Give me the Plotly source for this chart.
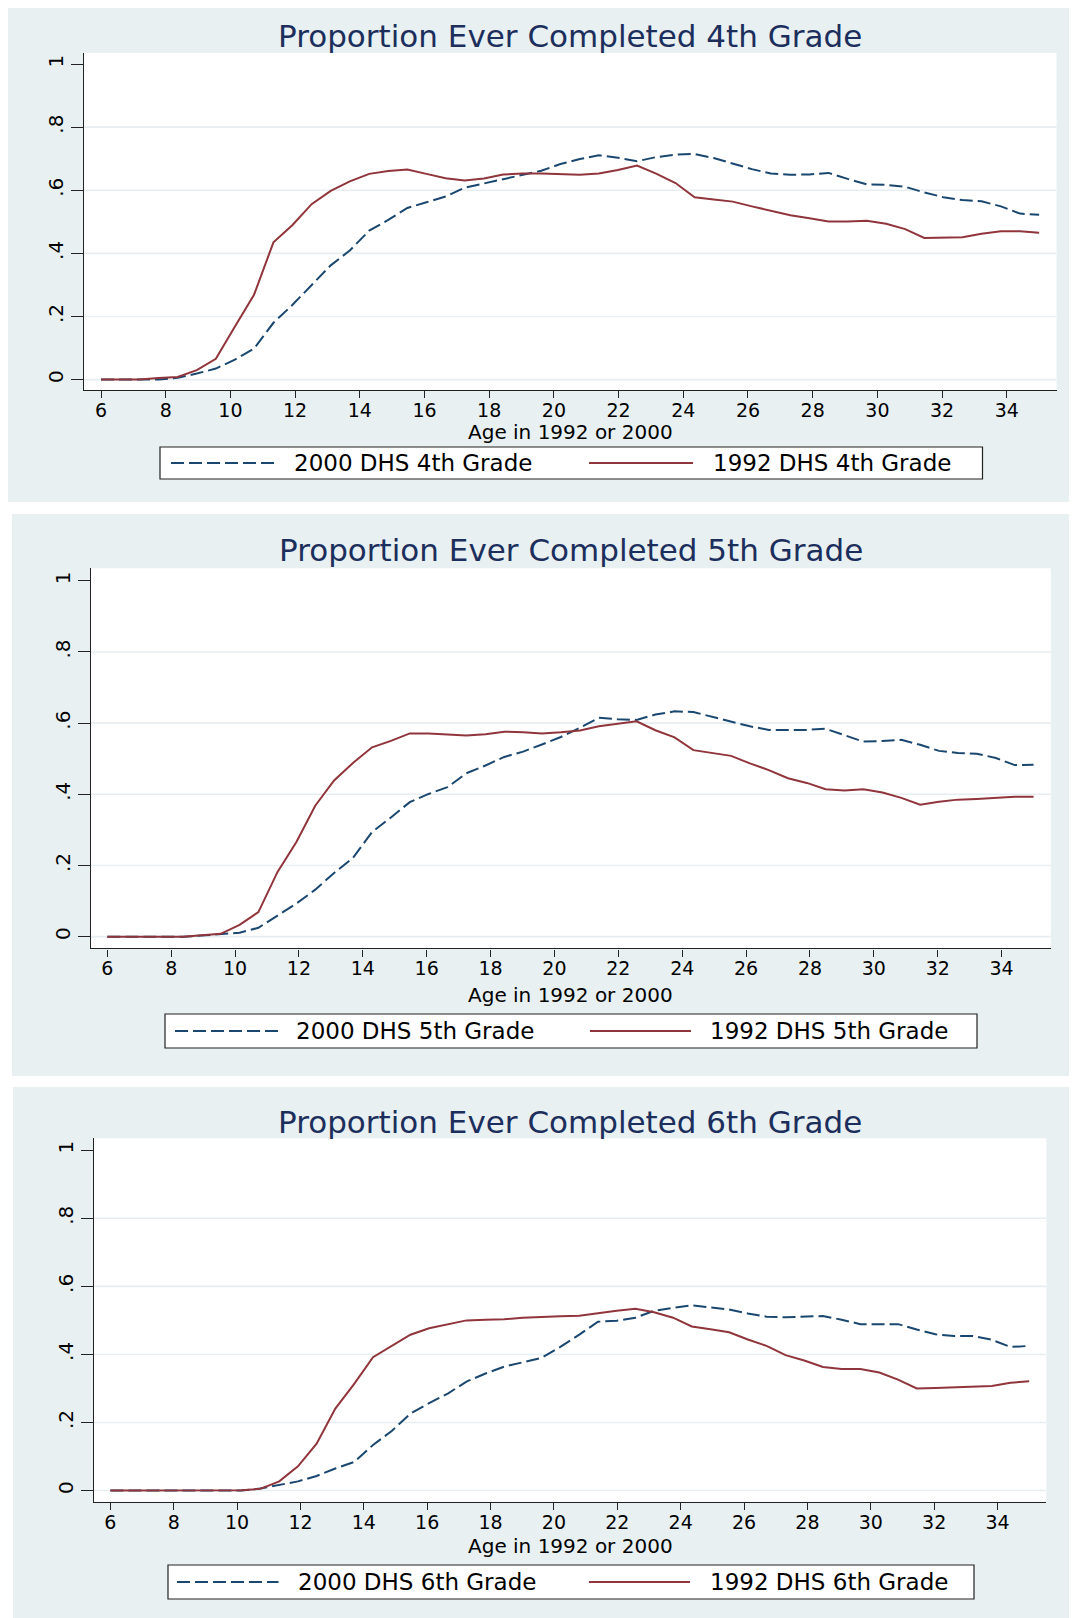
import plotly.graph_objects as go

# ---------------- data ----------------
age = [6.00, 6.59, 7.18, 7.78, 8.37, 8.96, 9.55, 10.14, 10.73, 11.33,
       11.92, 12.51, 13.10, 13.69, 14.29, 14.88, 15.47, 16.06, 16.65, 17.24,
       17.84, 18.43, 19.02, 19.61, 20.20, 20.80, 21.39, 21.98, 22.57, 23.16,
       23.76, 24.35, 24.94, 25.53, 26.12, 26.71, 27.31, 27.90, 28.49, 29.08,
       29.67, 30.27, 30.86, 31.45, 32.04, 32.63, 33.22, 33.82, 34.41, 35.00]

g4_2000 = [0, 0, 0, 0, 0.006, 0.019, 0.035, 0.063, 0.098, 0.18,
           0.237, 0.30, 0.362, 0.409, 0.472, 0.506, 0.544, 0.562, 0.58, 0.608,
           0.622, 0.634, 0.649, 0.662, 0.683, 0.699, 0.711, 0.703, 0.692, 0.705,
           0.713, 0.715, 0.702, 0.685, 0.667, 0.653, 0.649, 0.65, 0.655, 0.636,
           0.619, 0.617, 0.611, 0.593, 0.578, 0.569, 0.565, 0.549, 0.526, 0.522]
g4_1992 = [0, 0, 0, 0.005, 0.008, 0.03, 0.066, 0.168, 0.269, 0.435,
           0.49, 0.556, 0.598, 0.628, 0.652, 0.661, 0.666, 0.652, 0.638, 0.631,
           0.637, 0.65, 0.653, 0.653, 0.650, 0.649, 0.653, 0.664, 0.678, 0.653,
           0.623, 0.578, 0.571, 0.564, 0.549, 0.536, 0.521, 0.511, 0.501, 0.501,
           0.503, 0.494, 0.477, 0.449, 0.45, 0.451, 0.462, 0.47, 0.47, 0.465]

g5_2000 = [0, 0, 0, 0, 0, 0.003, 0.006, 0.011, 0.025, 0.059,
           0.093, 0.132, 0.179, 0.221, 0.294, 0.335, 0.378, 0.401, 0.42, 0.459,
           0.481, 0.505, 0.52, 0.54, 0.561, 0.587, 0.615, 0.611, 0.609, 0.624,
           0.633, 0.631, 0.618, 0.604, 0.591, 0.581, 0.58, 0.581, 0.584, 0.566,
           0.548, 0.55, 0.553, 0.539, 0.522, 0.516, 0.514, 0.502, 0.482, 0.483]
g5_1992 = [0, 0, 0, 0, 0, 0.004, 0.008, 0.033, 0.069, 0.182,
           0.266, 0.368, 0.439, 0.488, 0.532, 0.55, 0.571, 0.571, 0.568, 0.565,
           0.569, 0.576, 0.574, 0.571, 0.574, 0.579, 0.591, 0.599, 0.605, 0.58,
           0.56, 0.524, 0.517, 0.508, 0.487, 0.468, 0.445, 0.432, 0.414, 0.411,
           0.414, 0.405, 0.39, 0.371, 0.379, 0.385, 0.387, 0.39, 0.393, 0.393]

g6_2000 = [0, 0, 0, 0, 0, 0, 0, 0, 0.006, 0.016,
           0.027, 0.043, 0.065, 0.084, 0.134, 0.175, 0.226, 0.257, 0.285, 0.32,
           0.344, 0.364, 0.377, 0.39, 0.422, 0.458, 0.496, 0.499, 0.508, 0.528,
           0.537, 0.544, 0.538, 0.532, 0.52, 0.511, 0.509, 0.51, 0.513, 0.502,
           0.489, 0.489, 0.489, 0.473, 0.459, 0.454, 0.454, 0.443, 0.422, 0.425]
g6_1992 = [0, 0, 0, 0, 0, 0, 0, 0.001, 0.005, 0.027,
           0.071, 0.138, 0.241, 0.313, 0.392, 0.426, 0.458, 0.477, 0.489, 0.5,
           0.502, 0.503, 0.508, 0.511, 0.512, 0.514, 0.522, 0.528, 0.534, 0.524,
           0.508, 0.482, 0.474, 0.465, 0.444, 0.425, 0.398, 0.382, 0.363, 0.357,
           0.357, 0.347, 0.326, 0.3, 0.301, 0.303, 0.303, 0.307, 0.317, 0.321]

titles = ["Proportion Ever Completed 4th Grade",
          "Proportion Ever Completed 5th Grade",
          "Proportion Ever Completed 6th Grade"]
legend_2000 = ["2000 DHS 4th Grade", "2000 DHS 5th Grade", "2000 DHS 6th Grade"]
legend_1992 = ["1992 DHS 4th Grade", "1992 DHS 5th Grade", "1992 DHS 6th Grade"]
series_2000 = [g4_2000, g5_2000, g6_2000]
series_1992 = [g4_1992, g5_1992, g6_1992]

x_ticks = [6, 8, 10, 12, 14, 16, 18, 20, 22, 24, 26, 28, 30, 32, 34]
y_ticks = [0, 0.2, 0.4, 0.6, 0.8, 1]
y_tick_text = ["0", ".2", ".4", ".6", ".8", "1"]
x_axis_title = "Age in 1992 or 2000"

# ---------------- layout constants (page pixels) ----------------
OFF = 8                      # default body margin of the html page
W, H = 1077 - OFF, 1618 - OFF
BG = "#e8f0f2"
GRID = "#e6eef1"
NAVY = "#1a476f"
MAROON = "#90353b"
TITLE_C = "#1c2e5c"
FONT = "DejaVu Sans"
DASH = "13px,5px"

panels = [
    dict(bg=(5, 5, 1077, 502), plot=(84.2, 53, 1056.6, 390), title_y=36, xlab_y=432,
         box=(160, 447, 982.5, 479), l1=(171, 275), t1=291.7, l2=(589, 693), t2=711),
    dict(bg=(12, 514, 1077, 1076), plot=(90.7, 568.3, 1050.8, 948.4), title_y=550, xlab_y=995,
         box=(165, 1014, 977, 1048), l1=(175, 278.5), t1=294, l2=(590, 691), t2=707.6),
    dict(bg=(13, 1087, 1077, 1618), plot=(93.9, 1138.3, 1046.3, 1501.8), title_y=1122, xlab_y=1546,
         box=(168, 1565, 974, 1599), l1=(177, 278.5), t1=296, l2=(589, 690), t2=707.6),
]


def px(x):
    return (x - OFF) / W


def py(y):
    return 1 - (y - OFF) / H


fig = go.Figure()
shapes = []
annotations = []
layout_axes = {}

for k, p in enumerate(panels):
    n = "" if k == 0 else str(k + 1)
    xa, ya = "x" + n, "y" + n
    x0, y0, x1, y1 = p["plot"]

    # panel background and white plot region
    bx0, by0, bx1, by1 = p["bg"]
    shapes.append(dict(type="rect", xref="paper", yref="paper", layer="below",
                       x0=px(bx0), x1=px(bx1), y0=py(by1), y1=py(by0),
                       fillcolor=BG, line=dict(width=0)))
    shapes.append(dict(type="rect", xref="paper", yref="paper", layer="below",
                       x0=px(x0), x1=px(x1), y0=py(y1), y1=py(y0),
                       fillcolor="white", line=dict(width=0)))
    # gridlines
    for gv in y_ticks[:-1]:
        shapes.append(dict(type="line", xref=xa + " domain", yref=ya, layer="below",
                           x0=0, x1=1, y0=gv, y1=gv, line=dict(color=GRID, width=1.6)))

    fig.add_trace(go.Scatter(x=age, y=series_2000[k], mode="lines", xaxis=xa, yaxis=ya,
                             name=legend_2000[k], showlegend=False,
                             line=dict(color=NAVY, width=2, dash=DASH)))
    fig.add_trace(go.Scatter(x=age, y=series_1992[k], mode="lines", xaxis=xa, yaxis=ya,
                             name=legend_1992[k], showlegend=False,
                             line=dict(color=MAROON, width=2)))

    layout_axes["xaxis" + n] = dict(
        domain=[px(x0), px(x1)], anchor=ya, range=[5.48, 35.54],
        tickmode="array", tickvals=x_ticks, ticks="outside", ticklen=7, tickwidth=1.2,
        tickcolor="#222", showline=True, linecolor="#222", linewidth=1.3,
        showgrid=False, zeroline=False, ticklabelstandoff=-4,
        tickfont=dict(family=FONT, size=19, color="#000"))
    layout_axes["yaxis" + n] = dict(
        domain=[py(y1), py(y0)], anchor=xa, range=[-0.033, 1.035],
        tickmode="array", tickvals=y_ticks, ticktext=y_tick_text, tickangle=-90,
        ticks="outside", ticklen=12, tickwidth=1.2, tickcolor="#222",
        showline=True, linecolor="#222", linewidth=1.3,
        showgrid=False, zeroline=False,
        tickfont=dict(family=FONT, size=20, color="#000"))

    # title
    annotations.append(dict(text=titles[k], xref="paper", yref="paper",
                            x=px((x0 + x1) / 2), y=py(p["title_y"]), xanchor="center", yanchor="middle",
                            showarrow=False, font=dict(family=FONT, size=31, color=TITLE_C)))
    # x axis title
    annotations.append(dict(text=x_axis_title, xref="paper", yref="paper",
                            x=px((x0 + x1) / 2), y=py(p["xlab_y"]), xanchor="center", yanchor="middle",
                            showarrow=False, font=dict(family=FONT, size=20, color="#000")))
    # legend box
    lx0, ly0, lx1, ly1 = p["box"]
    shapes.append(dict(type="rect", xref="paper", yref="paper", layer="above",
                       x0=px(lx0), x1=px(lx1), y0=py(ly1), y1=py(ly0),
                       fillcolor="white", line=dict(color="#222", width=1.2)))
    cy = (ly0 + ly1) / 2
    shapes.append(dict(type="line", xref="paper", yref="paper", layer="above",
                       x0=px(p["l1"][0]), x1=px(p["l1"][1]), y0=py(cy), y1=py(cy),
                       line=dict(color=NAVY, width=2, dash=DASH)))
    shapes.append(dict(type="line", xref="paper", yref="paper", layer="above",
                       x0=px(p["l2"][0]), x1=px(p["l2"][1]), y0=py(cy), y1=py(cy),
                       line=dict(color=MAROON, width=2)))
    annotations.append(dict(text=legend_2000[k], xref="paper", yref="paper",
                            x=px(p["t1"]), y=py(cy), xanchor="left", yanchor="middle",
                            showarrow=False, font=dict(family=FONT, size=23, color="#000")))
    annotations.append(dict(text=legend_1992[k], xref="paper", yref="paper",
                            x=px(p["t2"]), y=py(cy), xanchor="left", yanchor="middle",
                            showarrow=False, font=dict(family=FONT, size=23, color="#000")))

fig.update_layout(
    width=W, height=H, autosize=False,
    margin=dict(l=0, r=0, t=0, b=0),
    paper_bgcolor="white", plot_bgcolor="rgba(0,0,0,0)",
    showlegend=False,
    shapes=shapes, annotations=annotations,
    font=dict(family=FONT),
    **layout_axes,
)

fig.write_html("out.html")
